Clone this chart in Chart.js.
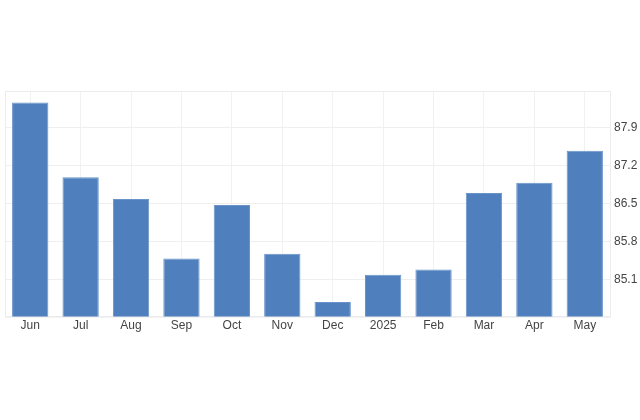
<!DOCTYPE html>
<html>
<head>
<meta charset="utf-8">
<script src="https://cdn.jsdelivr.net/npm/chart.js@4.4.0/dist/chart.umd.min.js"></script>
<style>
  html, body { margin: 0; padding: 0; background: #ffffff; }
  #wrap { width: 640px; height: 420px; }
</style>
</head>
<body>
<div id="wrap"><canvas id="chartBarras" width="640" height="420"></canvas></div>
<script>
var meses = ['Jun', 'Jul', 'Aug', 'Sep', 'Oct', 'Nov', 'Dec', '2025', 'Feb', 'Mar', 'Apr', 'May'];
var valores = [88.37, 86.99, 86.59, 85.49, 86.48, 85.58, 84.69, 85.19, 85.29, 86.70, 86.89, 87.48];
var marcasY = [85.1, 85.8, 86.5, 87.2, 87.9];

// marco suave alrededor del area del grafico
var marco = {
    id: 'marco',
    beforeDatasetsDraw: function (chart) {
        var a = chart.chartArea;
        var ctx = chart.ctx;
        ctx.save();
        ctx.strokeStyle = '#ececec';
        ctx.lineWidth = 1;
        ctx.strokeRect(a.left + 0.5, a.top + 0.5, a.right - a.left, a.bottom - a.top);
        ctx.restore();
    }
};

var ctx = document.getElementById('chartBarras').getContext('2d');
new Chart(ctx, {
    type: 'bar',
    data: {
        labels: meses,
        datasets: [{
            data: valores,
            backgroundColor: '#4f80bd',
            borderColor: '#6a94c9',
            borderWidth: 1,
            barPercentage: 0.8,
            categoryPercentage: 0.9
        }]
    },
    options: {
        responsive: false,
        animation: false,
        layout: { padding: { top: 91, left: 5, right: 0, bottom: 85 } },
        plugins: {
            legend: { display: false },
            tooltip: { enabled: false }
        },
        scales: {
            x: {
                grid: { color: '#f1f1f1', offset: false, drawTicks: false },
                border: { color: '#ececec' },
                ticks: {
                    font: { family: "'Liberation Sans', Arial, sans-serif", size: 12 },
                    color: '#444444',
                    padding: 2,
                    maxRotation: 0,
                    autoSkip: false
                }
            },
            y: {
                position: 'right',
                min: 84.42,
                max: 88.58,
                afterBuildTicks: function (axis) {
                    axis.ticks = marcasY.map(function (v) { return { value: v }; });
                },
                afterFit: function (axis) { axis.width = 30; },
                grid: { color: '#efefef', drawTicks: false },
                border: { color: '#e6e6e6' },
                ticks: {
                    font: { family: "'Liberation Sans', Arial, sans-serif", size: 12 },
                    color: '#444444',
                    padding: 4,
                    callback: function (v) { return v.toFixed(1); }
                }
            }
        }
    },
    plugins: [marco]
});
</script>
</body>
</html>
